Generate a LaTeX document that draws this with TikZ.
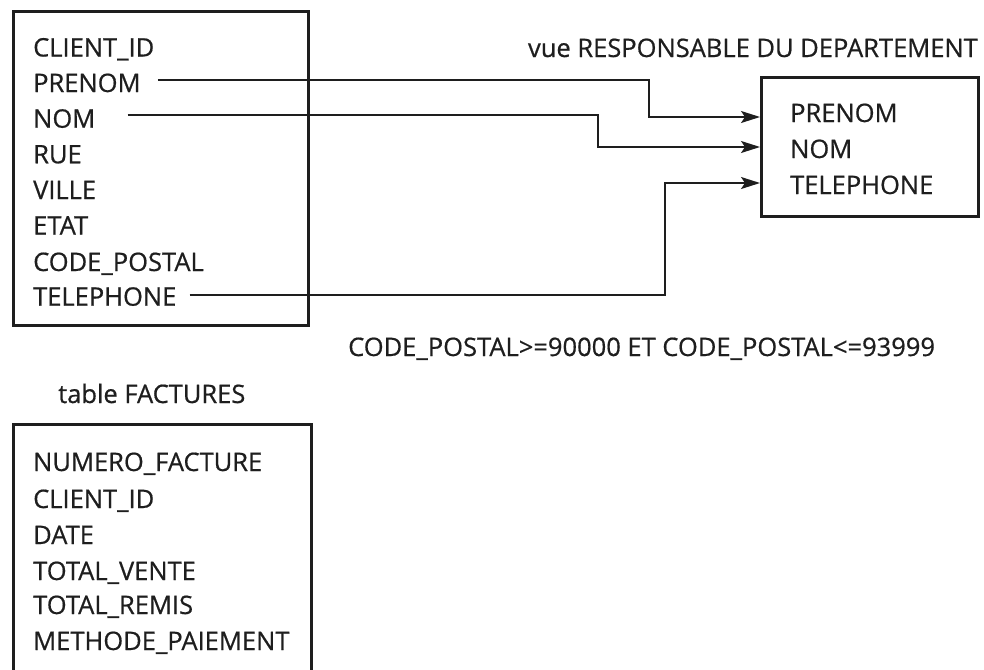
\documentclass[tikz,border=0pt]{standalone}
\usepackage{fontspec}
\setmainfont{Open Sans}[FakeBold=0.6]
\usetikzlibrary{arrows.meta,calc}
\definecolor{ink}{HTML}{1E1E1E}
\begin{document}
\begin{tikzpicture}[x=1pt,y=-1pt,
  field/.style={anchor=base west,inner sep=0pt,text=ink,font=\fontsize{25.5}{30}\selectfont},
  tbl/.style={draw=ink,line width=2.8pt,anchor=north west,inner sep=0pt},
  conn/.style={draw=ink,line width=1.8pt,-{Stealth[length=19pt,width=12pt,inset=4pt]}}]
\useasboundingbox (0,0) rectangle (984,669);
\clip (0,0) rectangle (984,669);
% client table
\node[tbl,minimum width=295pt,minimum height=314pt] (clients) at (12,10) {};
\node[field] (c1) at (33,56.5) {CLIENT\_ID};
\node[field] (c2) at (33,92) {PRENOM};
\node[field] (c3) at (33,127.7) {NOM};
\node[field] (c4) at (33,163.3) {RUE};
\node[field] (c5) at (33,199) {VILLE};
\node[field] (c6) at (33,234.5) {ETAT};
\node[field] (c7) at (33,271) {CODE\_POSTAL};
\node[field] (c8) at (33,305.7) {TELEPHONE};
% view
\node[field,anchor=base east] (vtitle) at (978,57) {vue RESPONSABLE DU DEPARTEMENT};
\node[tbl,minimum width=217pt,minimum height=139pt] (view) at (760,76) {};
\node[field] (v1) at (790,122) {PRENOM};
\node[field] (v2) at (790,158) {NOM};
\node[field] (v3) at (790,194) {TELEPHONE};
% condition
\node[field] (cond) at (348,356) {CODE\_POSTAL>=90000 ET CODE\_POSTAL<=93999};
% factures table
\node[field] (ftitle) at (58,403) {table FACTURES};
\node[tbl,minimum width=298pt,minimum height=300pt] (factures) at (12,423) {};
\node[field] (f1) at (33,471) {NUMERO\_FACTURE};
\node[field] (f2) at (33,508) {CLIENT\_ID};
\node[field] (f3) at (33,544) {DATE};
\node[field] (f4) at (33,580) {TOTAL\_VENTE};
\node[field] (f5) at (33,614) {TOTAL\_REMIS};
\node[field] (f6) at (33,650) {METHODE\_PAIEMENT};
% connectors
\coordinate (k1) at (649,0);
\coordinate (k2) at (598,0);
\coordinate (k3) at (665,0);
\coordinate (e1) at ($(v1.base west -| view.west)+(0,-5)$);
\coordinate (e2) at ($(v2.base west -| view.west)+(0,-11)$);
\coordinate (e3) at ($(v3.base west -| view.west)+(0,-11)$);
\draw[conn] ($(c2.base east)+(17,-12)$) -| (e1 -| k1) -- (e1);
\draw[conn] ($(c3.base east)+(32,-13)$) -| (e2 -| k2) -- (e2);
\draw[conn] ($(c8.base east)+(13,-11)$) -| (e3 -| k3) -- (e3);
\end{tikzpicture}
\end{document}
